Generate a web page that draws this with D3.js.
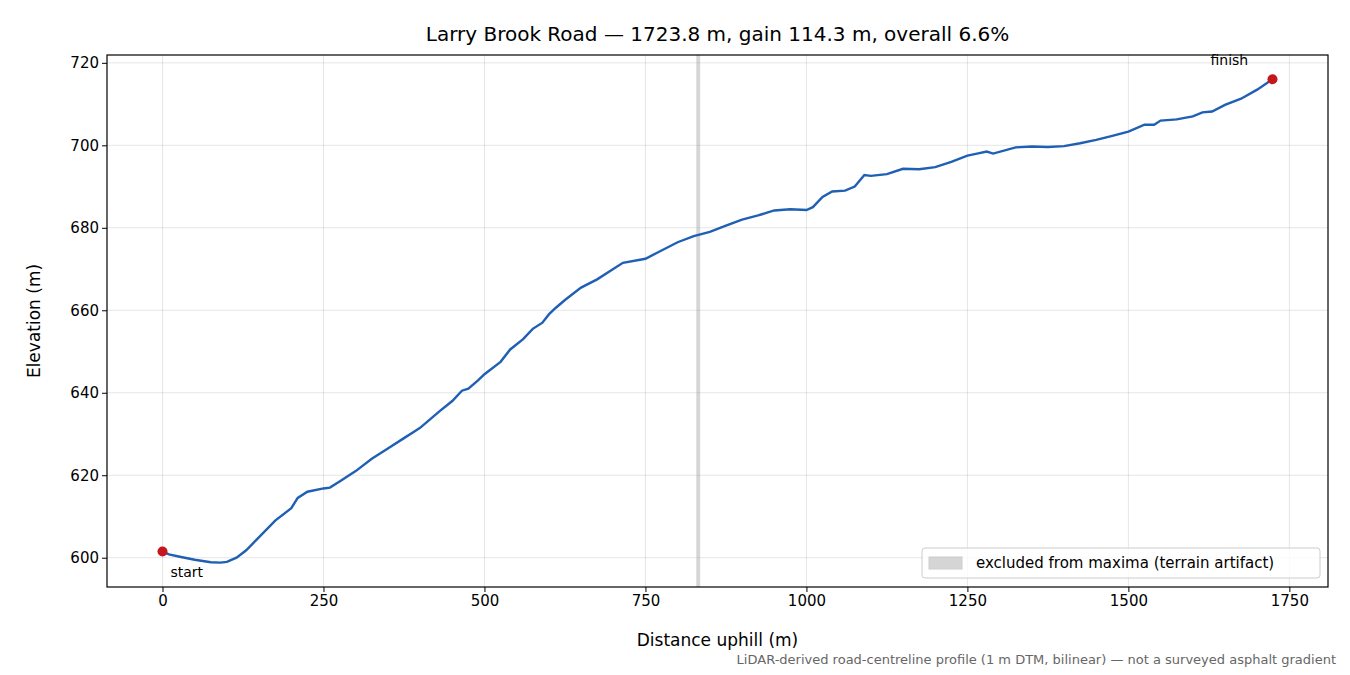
<!DOCTYPE html>
<html><head><meta charset="utf-8">
<script src="https://cdn.jsdelivr.net/npm/d3@7"></script>
<style>body{margin:0;background:#fff;font-family:"DejaVu Sans",sans-serif}</style>
</head><body><svg id="c" width="1350" height="675"></svg>
<script>
const dist=[0,10,25,50,75,90,100,115,130,150,175,200,210,225,250,260,275,300,325,350,375,390,400,415,430,450,465,475,490,500,525,540,560,575,590,600,610,625,650,675,700,715,750,775,800,825,850,875,900,925,950,975,1000,1010,1025,1040,1060,1075,1090,1100,1125,1150,1175,1200,1225,1250,1265,1280,1290,1325,1350,1375,1400,1425,1450,1475,1500,1525,1540,1550,1575,1600,1615,1630,1650,1675,1700,1723.8];
const elev=[601.5,600.8,600.3,599.5,598.9,598.8,599.0,600,601.8,605,609,612,614.5,616,616.8,617,618.5,621,624,626.5,629,630.5,631.5,633.5,635.5,638,640.5,641,643,644.5,647.5,650.5,653,655.5,657,659,660.5,662.5,665.5,667.5,670,671.5,672.5,674.5,676.5,678,679,680.5,682,683,684.2,684.5,684.3,685,687.5,688.8,689,690,692.8,692.6,693,694.3,694.2,694.7,696,697.5,698,698.5,698,699.5,699.7,699.6,699.8,700.5,701.3,702.3,703.3,705,705,706,706.3,707,708,708.2,709.8,711.3,713.5,716];
const xTicks=[0,250,500,750,1000,1250,1500,1750];
const yTicks=[600,620,640,660,680,700,720];
const excluded=[829,835];

const svg=d3.select("#c");
const L=107,R=1328,T=55,B=587;
const x=d3.scaleLinear().domain([-86.2,1810]).range([L,R]);
const y=d3.scaleLinear().domain([592.9,721.9]).range([B,T]);
const g=svg.append("g");
g.selectAll(".gx").data(xTicks).join("line").attr("x1",d=>x(d)).attr("x2",d=>x(d)).attr("y1",T).attr("y2",B).attr("stroke","#000").attr("stroke-opacity",0.1);
g.selectAll(".gy").data(yTicks).join("line").attr("y1",d=>y(d)).attr("y2",d=>y(d)).attr("x1",L).attr("x2",R).attr("stroke","#000").attr("stroke-opacity",0.1);
g.append("rect").attr("x",x(excluded[0])).attr("width",x(excluded[1])-x(excluded[0])).attr("y",T).attr("height",B-T).attr("fill","#999").attr("opacity",0.4);
const pts=dist.map((d,i)=>[d,elev[i]]);
g.append("path").datum(pts).attr("d",d3.line().x(d=>x(d[0])).y(d=>y(d[1]))).attr("fill","none").attr("stroke","#1f5fb4").attr("stroke-width",2.4);
const s=pts[0],f=pts[pts.length-1];
g.append("circle").attr("cx",x(s[0])).attr("cy",y(s[1])).attr("r",5).attr("fill","#c4161c");
g.append("circle").attr("cx",x(f[0])).attr("cy",y(f[1])).attr("r",5).attr("fill","#c4161c");
g.append("text").attr("x",x(s[0])+8).attr("y",y(s[1])+25).attr("font-size",14).text("start");
g.append("text").attr("x",x(f[0])-62).attr("y",y(f[1])-14).attr("font-size",14).text("finish");
const xa=svg.append("g").attr("transform",`translate(0,${B})`).call(d3.axisBottom(x).tickValues(xTicks).tickFormat(d3.format("d")).tickSizeOuter(0).tickSize(5));
const ya=svg.append("g").attr("transform",`translate(${L},0)`).call(d3.axisLeft(y).tickValues(yTicks).tickFormat(d3.format("d")).tickSizeOuter(0).tickSize(5));
[xa,ya].forEach(a=>{a.select(".domain").remove();a.selectAll("text").attr("font-size",15).attr("font-family","DejaVu Sans").attr("fill","#000");});
svg.append("rect").attr("x",L).attr("y",T).attr("width",R-L).attr("height",B-T).attr("fill","none").attr("stroke","#000").attr("stroke-width",1.2);
svg.append("text").attr("x",(L+R)/2).attr("y",41).attr("text-anchor","middle").attr("font-size",20).text("Larry Brook Road — 1723.8 m, gain 114.3 m, overall 6.6%");
svg.append("text").attr("x",(L+R)/2).attr("y",646).attr("text-anchor","middle").attr("font-size",17).text("Distance uphill (m)");
svg.append("text").attr("transform",`translate(40,${(T+B)/2}) rotate(-90)`).attr("text-anchor","middle").attr("font-size",17).text("Elevation (m)");
svg.append("text").attr("x",1336).attr("y",664).attr("text-anchor","end").attr("font-size",13).attr("fill","#666").text("LiDAR-derived road-centreline profile (1 m DTM, bilinear) — not a surveyed asphalt gradient");
const lg=svg.append("g");
lg.append("rect").attr("x",922).attr("y",548).attr("width",398).attr("height",30).attr("rx",3).attr("fill","#fff").attr("fill-opacity",0.8).attr("stroke","#ccc");
lg.append("rect").attr("x",929).attr("y",557).attr("width",33).attr("height",12).attr("fill","#999").attr("opacity",0.4).attr("stroke","#888");
lg.append("text").attr("x",976).attr("y",568).attr("font-size",15).text("excluded from maxima (terrain artifact)");
</script></body></html>
